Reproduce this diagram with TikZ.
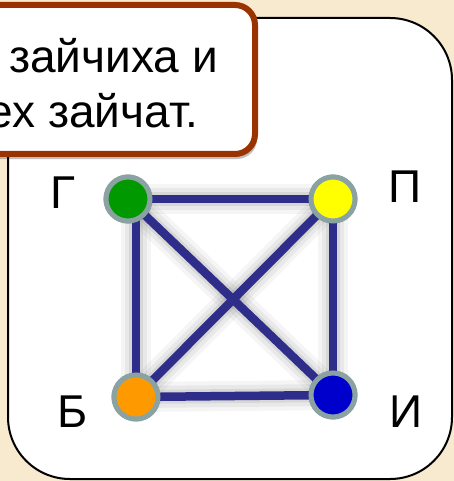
\documentclass[tikz,border=0pt]{standalone}
\usepackage{fontspec}
\setmainfont{Liberation Sans}
\definecolor{bgbeige}{RGB}{247,234,207}
\definecolor{brownframe}{RGB}{153,51,0}
\definecolor{edgeblue}{RGB}{46,46,138}
\definecolor{ringgray}{RGB}{138,162,162}
\definecolor{vgreen}{RGB}{0,153,0}
\definecolor{vyellow}{RGB}{255,255,0}
\definecolor{vorange}{RGB}{255,153,0}
\definecolor{vblue}{RGB}{0,0,204}
\tikzset{
  vertex/.style={circle, draw=ringgray, line width=5pt, minimum size=44pt, inner sep=0pt},
  edgeline/.style={draw=edgeblue, line width=8.5pt},
  glowwide/.style={draw=black, opacity=0.04, line width=30pt},
  glowmid/.style={draw=black, opacity=0.05, line width=22pt},
  glownarrow/.style={draw=black, opacity=0.07, line width=14pt},
  vlabel/.style={font=\fontsize{46}{55}\selectfont, anchor=base, inner sep=0pt},
  storytext/.style={font=\fontsize{46}{55}\selectfont, inner sep=0pt},
}
\begin{document}
\begin{tikzpicture}[x=1pt,y=-1pt]
  \useasboundingbox (0,0) rectangle (454,481);
  \fill[bgbeige] (0,0) rectangle (454,481);
  % panel
  \draw[black, line width=2pt, fill=white, rounded corners=62pt] (8,18) rectangle (452,479);
  % vertices
  \node[vertex, fill=vgreen] (g) at (128,199) {};
  \node[vertex, fill=vyellow] (p) at (333,199) {};
  \node[vertex, fill=vorange] (b) at (136,397) {};
  \node[vertex, fill=vblue] (i) at (333,395) {};
  % shadows of edges
  \begin{scope}[shift={(5,-5)}]
    \foreach \s in {glowwide,glowmid,glownarrow}{
      \draw[\s] (g.center) -- (p.center);
      \draw[\s] (b |- g) -- (b.center);
      \draw[\s] (p.center) -- (i.center);
      \draw[\s] (b.center) -- (i.center);
      \draw[\s] (g.center) -- (i.center);
      \draw[\s] (b.center) -- (p.center);
    }
  \end{scope}
  % edges
  \draw[edgeline] (g.center) -- (p.center);
  \draw[edgeline] (b |- g) -- (b.center);
  \draw[edgeline] (p.center) -- (i.center);
  \draw[edgeline] (b.center) -- (i.center);
  \draw[edgeline] (g.center) -- (i.center);
  \draw[edgeline] (b.center) -- (p.center);
  % redraw vertices on top
  \node[vertex, fill=vgreen] at (g) {};
  \node[vertex, fill=vyellow] at (p) {};
  \node[vertex, fill=vorange] at (b) {};
  \node[vertex, fill=vblue] at (i) {};
  % labels
  \node[vlabel] (lg) at (63,208) {Г};
  \node[vlabel] (lp) at (405,202) {П};
  \node[vlabel] (lb) at (73,427) {Б};
  \node[vlabel] (li) at (406,427) {И};
  % callout
  \fill[black, opacity=0.25, rounded corners=20pt] (-20,9) rectangle (257,159);
  \draw[brownframe, line width=6pt, fill=white, rounded corners=20pt] (-20,5) rectangle (255,154);
  \node[storytext, anchor=base west] (t1) at (9,73) {зайчиха и};
  \node[storytext, anchor=base east] (t2) at (198,128) {ех зайчат.};
\end{tikzpicture}
\end{document}
